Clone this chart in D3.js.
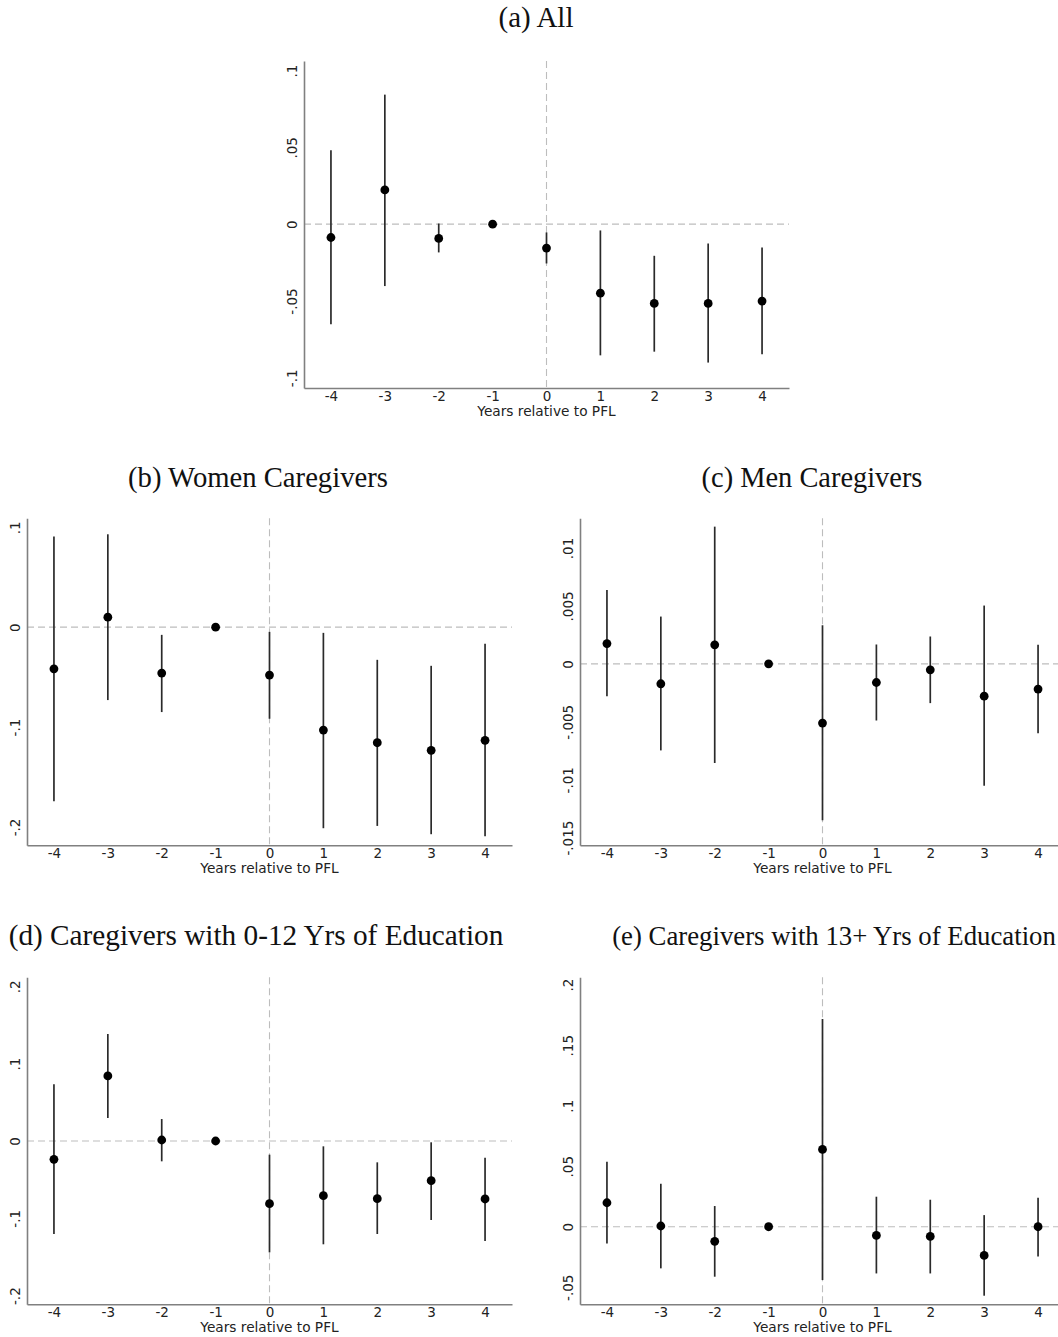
<!DOCTYPE html>
<html><head><meta charset="utf-8">
<script src="https://cdn.jsdelivr.net/npm/d3@7"></script>
<style>body{margin:0;background:#fff} svg{display:block}</style>
</head><body><svg id="chart" width="1058" height="1337"></svg>
<script>
// ---------- DATA ----------
const years = [-4, -3, -2, -1, 0, 1, 2, 3, 4];
const xTickLabels = ["-4", "-3", "-2", "-1", "0", "1", "2", "3", "4"];
const xAxisTitle = "Years relative to PFL";

const titles = ["(a) All", "(b) Women Caregivers", "(c) Men Caregivers",
  "(d) Caregivers with 0-12 Yrs of Education", "(e) Caregivers with 13+ Yrs of Education"];

// (a) All
const allEst = [-0.0087, 0.0223, -0.0093, 0, -0.0156, -0.0449, -0.0516, -0.0516, -0.0501];
const allLo  = [-0.0652, -0.0403, -0.0184, null, -0.0256, -0.0854, -0.0830, -0.0901, -0.0847];
const allHi  = [0.0481, 0.0843, 0.0004, null, -0.0054, -0.0041, -0.0206, -0.0126, -0.0152];
const allTicks = [-0.1, -0.05, 0, 0.05, 0.1];
const allTickLabels = ["-.1", "-.05", "0", ".05", ".1"];

// (b) Women caregivers
const womenEst = [-0.0417, 0.0100, -0.0460, 0, -0.0480, -0.1030, -0.1157, -0.1233, -0.1133];
const womenLo  = [-0.1743, -0.0730, -0.0850, null, -0.0917, -0.2013, -0.1990, -0.2073, -0.2093];
const womenHi  = [0.0907, 0.0930, -0.0077, null, -0.0047, -0.0057, -0.0327, -0.0387, -0.0167];
const womenTicks = [-0.2, -0.1, 0, 0.1];
const womenTickLabels = ["-.2", "-.1", "0", ".1"];

// (c) Men caregivers
const menEst = [0.00175, -0.00172, 0.00164, 0, -0.00511, -0.00161, -0.00052, -0.00279, -0.00218];
const menLo  = [-0.00279, -0.00747, -0.00856, null, -0.01350, -0.00489, -0.00339, -0.01052, -0.00598];
const menHi  = [0.00638, 0.00408, 0.01184, null, 0.00333, 0.00167, 0.00236, 0.00503, 0.00164];
const menTicks = [-0.015, -0.01, -0.005, 0, 0.005, 0.01];
const menTickLabels = ["-.015", "-.01", "-.005", "0", ".005", ".01"];

// (d) 0-12 years of education
const lowEdEst = [-0.0237, 0.0841, 0.0013, 0, -0.0810, -0.0707, -0.0746, -0.0513, -0.0750];
const lowEdLo  = [-0.1203, 0.0297, -0.0263, null, -0.1440, -0.1336, -0.1203, -0.1022, -0.1293];
const lowEdHi  = [0.0733, 0.1384, 0.0284, null, -0.0177, -0.0069, -0.0276, -0.0017, -0.0216];
const lowEdTicks = [-0.2, -0.1, 0, 0.1, 0.2];
const lowEdTickLabels = ["-.2", "-.1", "0", ".1", ".2"];

// (e) 13+ years of education
const highEdEst = [0.0198, 0.0006, -0.0121, 0, 0.0639, -0.0072, -0.0080, -0.0237, 0.0000];
const highEdLo  = [-0.0138, -0.0344, -0.0413, null, -0.0441, -0.0386, -0.0386, -0.0570, -0.0245];
const highEdHi  = [0.0537, 0.0355, 0.0171, null, 0.1716, 0.0248, 0.0223, 0.0096, 0.0240];
const highEdTicks = [-0.05, 0, 0.05, 0.1, 0.15, 0.2];
const highEdTickLabels = ["-.05", "0", ".05", ".1", ".15", ".2"];

// ---------- LAYOUT ----------
const panels = [
  {title: titles[0], est: allEst, lo: allLo, hi: allHi, ticks: allTicks, tickLabels: allTickLabels,
   yDomain: [-0.10665, 0.10619], left: 304, top: 61, titleX: 536, titleY: 27, titleW: 75},
  {title: titles[1], est: womenEst, lo: womenLo, hi: womenHi, ticks: womenTicks, tickLabels: womenTickLabels,
   yDomain: [-0.2184, 0.109], left: 27, top: 518.3, titleX: 258, titleY: 487, titleW: 260},
  {title: titles[2], est: menEst, lo: menLo, hi: menHi, ticks: menTicks, tickLabels: menTickLabels,
   yDomain: [-0.01566, 0.01256], left: 580, top: 518.3, titleX: 812, titleY: 487, titleW: 221},
  {title: titles[3], est: lowEdEst, lo: lowEdLo, hi: lowEdHi, ticks: lowEdTicks, tickLabels: lowEdTickLabels,
   yDomain: [-0.2112, 0.2117], left: 27, top: 977.3, titleX: 256, titleY: 945, titleW: 495},
  {title: titles[4], est: highEdEst, lo: highEdLo, hi: highEdHi, ticks: highEdTicks, tickLabels: highEdTickLabels,
   yDomain: [-0.0641, 0.2061], left: 580, top: 977.3, titleX: 834, titleY: 945, titleW: 444}
];
const plotW = 485, plotH = 327;

const svg = d3.select("#chart");
svg.append("rect").attr("width", 1058).attr("height", 1337).attr("fill", "#fff");

panels.forEach(p => {
  // title
  const t = svg.append("text")
    .attr("x", p.titleX).attr("y", p.titleY)
    .attr("text-anchor", "middle")
    .attr("font-family", "'Liberation Serif', 'DejaVu Serif', serif")
    .attr("font-size", 26).attr("fill", "#111")
    .text(p.title);
  const w = t.node().getComputedTextLength();
  t.attr("font-size", 26 * p.titleW / w);

  const g = svg.append("g").attr("transform", `translate(${p.left},${p.top})`);
  const x = d3.scaleLinear().domain([-4.5, 4.5]).range([0, plotW]);
  const y = d3.scaleLinear().domain(p.yDomain).range([plotH, 0]);

  // reference lines
  g.append("line").attr("x1", 0).attr("x2", plotW).attr("y1", y(0)).attr("y2", y(0))
    .attr("stroke", "#bdbdbd").attr("stroke-width", 1.1).attr("stroke-dasharray", "7,4");
  g.append("line").attr("x1", x(0)).attr("x2", x(0)).attr("y1", 0).attr("y2", plotH)
    .attr("stroke", "#bdbdbd").attr("stroke-width", 1.1).attr("stroke-dasharray", "7,4");

  // y axis
  const ya = g.append("g").call(d3.axisLeft(y).tickValues(p.ticks).tickSize(0).tickSizeOuter(0)
      .tickFormat((d, i) => p.tickLabels[i]));
  ya.select(".domain").attr("stroke", "#808080").attr("stroke-width", 1.6);
  ya.selectAll("text")
    .attr("x", 0).attr("y", -7).attr("dy", 0)
    .attr("text-anchor", "middle").attr("transform", "rotate(-90)")
    .attr("font-family", "'DejaVu Sans', sans-serif").attr("font-size", 13.5).attr("fill", "#222");

  // x axis
  const xa = g.append("g").attr("transform", `translate(0,${plotH})`)
    .call(d3.axisBottom(x).tickValues(years).tickSize(0).tickSizeOuter(0)
      .tickFormat((d, i) => xTickLabels[i]));
  xa.select(".domain").attr("stroke", "#808080").attr("stroke-width", 1.6);
  xa.selectAll("text").attr("y", 12.5).attr("dy", 0)
    .attr("font-family", "'DejaVu Sans', sans-serif").attr("font-size", 13.5).attr("fill", "#222");

  g.append("text").attr("x", x(0)).attr("y", plotH + 27.5)
    .attr("text-anchor", "middle")
    .attr("font-family", "'DejaVu Sans', sans-serif").attr("font-size", 13.7).attr("fill", "#222")
    .text(xAxisTitle);

  // confidence intervals
  const rows = years.map((yr, i) => ({yr, est: p.est[i], lo: p.lo[i], hi: p.hi[i]}));
  g.selectAll("line.ci").data(rows.filter(r => r.lo !== null)).enter().append("line")
    .attr("class", "ci")
    .attr("x1", r => x(r.yr)).attr("x2", r => x(r.yr))
    .attr("y1", r => y(r.lo)).attr("y2", r => y(r.hi))
    .attr("stroke", "#2a2a2a").attr("stroke-width", 1.7);

  // point estimates
  g.selectAll("circle.pt").data(rows).enter().append("circle")
    .attr("class", "pt")
    .attr("cx", r => x(r.yr)).attr("cy", r => y(r.est)).attr("r", 4.4)
    .attr("fill", "#000");
});
</script>
</body></html>
